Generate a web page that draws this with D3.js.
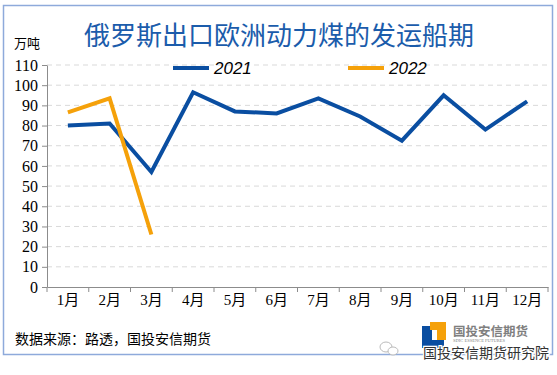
<!DOCTYPE html>
<html>
<head>
<meta charset="utf-8">
<script src="https://cdn.jsdelivr.net/npm/d3@7"></script>
<style>
  html, body { margin: 0; padding: 0; background: #fff; }
  svg { display: block; }
</style>
</head>
<body>
<div id="chart"></div>
<script>
const months = ['1月', '2月', '3月', '4月', '5月', '6月', '7月', '8月', '9月', '10月', '11月', '12月'];
const values2021 = [80, 81, 57, 96.5, 87, 86, 93.5, 84.5, 72.5, 95, 78, 92];
const values2022 = [86.5, 93.5, 26];
const yTicks = [0, 10, 20, 30, 40, 50, 60, 70, 80, 90, 100, 110];

const width = 557, height = 375;
const margin = { left: 47, right: 9, top: 65, bottom: 88 };
const serif = '"Liberation Serif", "DejaVu Serif", "Noto Sans CJK SC", serif';

const svg = d3.select('#chart').append('svg')
  .attr('width', width).attr('height', height);

// outer frame
svg.append('rect')
  .attr('x', 3.5).attr('y', 5.5).attr('width', 549).attr('height', 349)
  .attr('fill', 'none').attr('stroke', '#8eaadb').attr('stroke-width', 1.5);

const x = d3.scaleBand().domain(months).range([margin.left, width - margin.right]);
const y = d3.scaleLinear().domain([0, 110]).range([height - margin.bottom, margin.top]);

// gridlines
svg.append('g').selectAll('line')
  .data(yTicks.filter(d => d > 0))
  .join('line')
  .attr('x1', margin.left).attr('x2', width - margin.right)
  .attr('y1', d => y(d)).attr('y2', d => y(d))
  .attr('stroke', '#d9d9d9').attr('stroke-dasharray', '5,4').attr('stroke-width', 1);

// y axis
const yAxis = svg.append('g')
  .attr('transform', `translate(${margin.left},0)`)
  .call(d3.axisLeft(y).tickValues(yTicks).tickSize(5).tickSizeOuter(0));
yAxis.attr('font-family', serif);
yAxis.select('.domain').attr('stroke', '#8c8c8c');
yAxis.selectAll('.tick line').attr('stroke', '#8c8c8c');
yAxis.selectAll('text')
  .attr('x', -9)
  .style('font-family', serif)
  .style('font-size', '16px').attr('fill', '#000');

// x axis
const xAxis = svg.append('g')
  .attr('transform', `translate(0,${y(0)})`)
  .call(d3.axisBottom(x).tickSize(0));
xAxis.attr('font-family', serif);
xAxis.select('.domain').attr('stroke', '#8c8c8c');
xAxis.selectAll('text')
  .attr('dy', '0.71em').attr('y', 7)
  .style('font-family', serif)
  .style('font-size', '15px').attr('fill', '#000');
// boundary ticks between categories
svg.append('g').selectAll('line')
  .data(d3.range(months.length + 1))
  .join('line')
  .attr('x1', i => margin.left + i * x.step()).attr('x2', i => margin.left + i * x.step())
  .attr('y1', y(0)).attr('y2', y(0) + 5)
  .attr('stroke', '#8c8c8c');

const cx = d => x(d) + x.bandwidth() / 2;
const line = d3.line().x((d, i) => cx(months[i])).y(d => y(d));

svg.append('path').datum(values2021)
  .attr('d', line).attr('fill', 'none')
  .attr('stroke', '#0a4ea1').attr('stroke-width', 4).attr('stroke-linejoin', 'miter');
svg.append('path').datum(values2022)
  .attr('d', line).attr('fill', 'none')
  .attr('stroke', '#f5a10a').attr('stroke-width', 4).attr('stroke-linejoin', 'miter');

// legend
const legend = [
  { name: '2021', color: '#0a4ea1', x: 173 },
  { name: '2022', color: '#f5a10a', x: 348 }
];
legend.forEach(d => {
  svg.append('line').attr('x1', d.x).attr('x2', d.x + 36).attr('y1', 68).attr('y2', 68)
    .attr('stroke', d.color).attr('stroke-width', 4);
  svg.append('text').attr('x', d.x + 41).attr('y', 74)
    .style('font-family', '"Liberation Sans", Arial, sans-serif')
    .style('font-size', '17px').style('font-style', 'italic')
    .attr('fill', '#000').text(d.name);
});

// title and unit
svg.append('text').attr('x', 279).attr('y', 45).attr('text-anchor', 'middle')
  .style('font-family', '"Noto Sans CJK SC", sans-serif').style('font-size', '26px')
  .attr('fill', '#1b5cab').text('俄罗斯出口欧洲动力煤的发运船期');
svg.append('text').attr('x', 14).attr('y', 48)
  .style('font-family', '"Noto Sans CJK SC", sans-serif').style('font-size', '13px')
  .attr('fill', '#000').text('万吨');

// source
svg.append('text').attr('x', 15).attr('y', 344)
  .style('font-family', '"Noto Sans CJK SC", sans-serif').style('font-size', '14px')
  .attr('fill', '#000').text('数据来源：路透，国投安信期货');

// logo
const logo = svg.append('g').attr('transform', 'translate(422,322)');
logo.append('path').attr('d', 'M0,4 h10 v14 h12 v8 h-22 z').attr('fill', '#0a4ea1');
logo.append('path').attr('d', 'M8,0 h16 v18 h-9 v-10 h-7 z').attr('fill', '#f5a10a');
svg.append('text').attr('x', 453).attr('y', 336)
  .style('font-family', '"Noto Sans CJK SC", sans-serif').style('font-size', '12.5px')
  .style('font-weight', 'bold').attr('fill', '#7f7f7f').text('国投安信期货');
svg.append('text').attr('x', 453).attr('y', 341.5)
  .style('font-family', serif).style('font-size', '4.5px')
  .attr('fill', '#7f7f7f').text('SDIC ESSENCE FUTURES');

// watermark
const wm = svg.append('g');
wm.append('ellipse').attr('cx', 386).attr('cy', 347).attr('rx', 6).attr('ry', 5)
  .attr('fill', '#fff').attr('stroke', '#bbb').attr('stroke-width', 1);
wm.append('ellipse').attr('cx', 393).attr('cy', 351).attr('rx', 5).attr('ry', 4)
  .attr('fill', '#fff').attr('stroke', '#bbb').attr('stroke-width', 1);
wm.append('text').attr('x', 423).attr('y', 357.5)
  .style('font-family', '"Noto Sans CJK SC", sans-serif').style('font-size', '14px')
  .attr('fill', '#333').attr('stroke', '#fff').attr('stroke-width', 2.5)
  .attr('paint-order', 'stroke').text('国投安信期货研究院');
</script>
</body>
</html>
